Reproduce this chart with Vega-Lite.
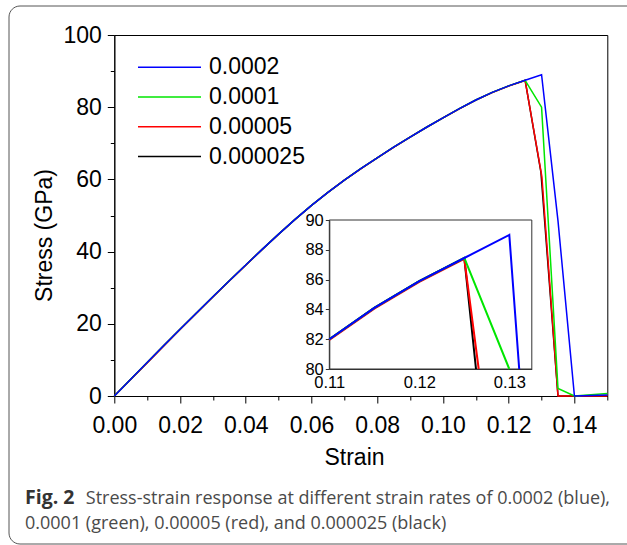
{
  "$schema": "https://vega.github.io/schema/vega-lite/v6.json",
  "width": 493,
  "height": 361,
  "autosize": {"type": "none"},
  "padding": {"left": 114.3, "top": 35, "right": 19.7, "bottom": 149},
  "background": "white",
  "title": {
    "text": "Fig. 2",
    "subtitle": ["\u200b\u00a0\u00a0\u00a0\u00a0\u00a0\u00a0\u00a0\u00a0\u00a0\u00a0\u00a0\u00a0\u00a0Stress-strain response at different strain rates of 0.0002 (blue),", "0.0001 (green), 0.00005 (red), and 0.000025 (black)"],
    "orient": "bottom",
    "anchor": "start",
    "frame": "group",
    "baseline": "alphabetic",
    "dx": -89.3,
    "offset": -41,
    "font": "Open Sans",
    "fontSize": 19.5,
    "fontWeight": "bold",
    "color": "#333333",
    "subtitleFont": "Open Sans",
    "subtitleFontSize": 18,
    "subtitleColor": "#4a4a4a",
    "subtitleLineHeight": 25,
    "subtitlePadding": -19.5
  },
  "datasets": {
    "main": [
      {"rate": "0.000025", "strain": 0, "stress": 0},
      {"rate": "0.000025", "strain": 0.005, "stress": 4.63},
      {"rate": "0.000025", "strain": 0.01, "stress": 9.26},
      {"rate": "0.000025", "strain": 0.015, "stress": 13.9},
      {"rate": "0.000025", "strain": 0.02, "stress": 18.47},
      {"rate": "0.000025", "strain": 0.025, "stress": 23.0},
      {"rate": "0.000025", "strain": 0.03, "stress": 27.49},
      {"rate": "0.000025", "strain": 0.035, "stress": 31.92},
      {"rate": "0.000025", "strain": 0.04, "stress": 36.3},
      {"rate": "0.000025", "strain": 0.045, "stress": 40.62},
      {"rate": "0.000025", "strain": 0.05, "stress": 44.85},
      {"rate": "0.000025", "strain": 0.055, "stress": 48.93},
      {"rate": "0.000025", "strain": 0.06, "stress": 52.81},
      {"rate": "0.000025", "strain": 0.065, "stress": 56.43},
      {"rate": "0.000025", "strain": 0.07, "stress": 59.8},
      {"rate": "0.000025", "strain": 0.075, "stress": 62.97},
      {"rate": "0.000025", "strain": 0.08, "stress": 65.99},
      {"rate": "0.000025", "strain": 0.085, "stress": 68.91},
      {"rate": "0.000025", "strain": 0.09, "stress": 71.73},
      {"rate": "0.000025", "strain": 0.095, "stress": 74.45},
      {"rate": "0.000025", "strain": 0.1, "stress": 77.07},
      {"rate": "0.000025", "strain": 0.105, "stress": 79.59},
      {"rate": "0.000025", "strain": 0.11, "stress": 82.0},
      {"rate": "0.000025", "strain": 0.115, "stress": 84.1},
      {"rate": "0.000025", "strain": 0.12, "stress": 85.9},
      {"rate": "0.000025", "strain": 0.125, "stress": 87.45},
      {"rate": "0.000025", "strain": 0.1298, "stress": 62.0},
      {"rate": "0.000025", "strain": 0.135, "stress": 0},
      {"rate": "0.000025", "strain": 0.14, "stress": 0},
      {"rate": "0.000025", "strain": 0.15, "stress": 0},
      {"rate": "0.00005", "strain": 0, "stress": 0},
      {"rate": "0.00005", "strain": 0.005, "stress": 4.55},
      {"rate": "0.00005", "strain": 0.01, "stress": 9.18},
      {"rate": "0.00005", "strain": 0.015, "stress": 13.82},
      {"rate": "0.00005", "strain": 0.02, "stress": 18.4},
      {"rate": "0.00005", "strain": 0.025, "stress": 22.93},
      {"rate": "0.00005", "strain": 0.03, "stress": 27.43},
      {"rate": "0.00005", "strain": 0.035, "stress": 31.87},
      {"rate": "0.00005", "strain": 0.04, "stress": 36.25},
      {"rate": "0.00005", "strain": 0.045, "stress": 40.58},
      {"rate": "0.00005", "strain": 0.05, "stress": 44.81},
      {"rate": "0.00005", "strain": 0.055, "stress": 48.9},
      {"rate": "0.00005", "strain": 0.06, "stress": 52.78},
      {"rate": "0.00005", "strain": 0.065, "stress": 56.4},
      {"rate": "0.00005", "strain": 0.07, "stress": 59.77},
      {"rate": "0.00005", "strain": 0.075, "stress": 62.94},
      {"rate": "0.00005", "strain": 0.08, "stress": 65.96},
      {"rate": "0.00005", "strain": 0.085, "stress": 68.88},
      {"rate": "0.00005", "strain": 0.09, "stress": 71.7},
      {"rate": "0.00005", "strain": 0.095, "stress": 74.42},
      {"rate": "0.00005", "strain": 0.1, "stress": 77.04},
      {"rate": "0.00005", "strain": 0.105, "stress": 79.56},
      {"rate": "0.00005", "strain": 0.11, "stress": 81.95},
      {"rate": "0.00005", "strain": 0.115, "stress": 84.05},
      {"rate": "0.00005", "strain": 0.12, "stress": 85.85},
      {"rate": "0.00005", "strain": 0.125, "stress": 87.4},
      {"rate": "0.00005", "strain": 0.1301, "stress": 60.8},
      {"rate": "0.00005", "strain": 0.135, "stress": 0},
      {"rate": "0.00005", "strain": 0.14, "stress": 0},
      {"rate": "0.00005", "strain": 0.15, "stress": 0},
      {"rate": "0.0001", "strain": 0, "stress": 0},
      {"rate": "0.0001", "strain": 0.005, "stress": 4.63},
      {"rate": "0.0001", "strain": 0.01, "stress": 9.26},
      {"rate": "0.0001", "strain": 0.015, "stress": 13.9},
      {"rate": "0.0001", "strain": 0.02, "stress": 18.47},
      {"rate": "0.0001", "strain": 0.025, "stress": 23.0},
      {"rate": "0.0001", "strain": 0.03, "stress": 27.49},
      {"rate": "0.0001", "strain": 0.035, "stress": 31.92},
      {"rate": "0.0001", "strain": 0.04, "stress": 36.3},
      {"rate": "0.0001", "strain": 0.045, "stress": 40.62},
      {"rate": "0.0001", "strain": 0.05, "stress": 44.85},
      {"rate": "0.0001", "strain": 0.055, "stress": 48.93},
      {"rate": "0.0001", "strain": 0.06, "stress": 52.81},
      {"rate": "0.0001", "strain": 0.065, "stress": 56.43},
      {"rate": "0.0001", "strain": 0.07, "stress": 59.8},
      {"rate": "0.0001", "strain": 0.075, "stress": 62.97},
      {"rate": "0.0001", "strain": 0.08, "stress": 65.99},
      {"rate": "0.0001", "strain": 0.085, "stress": 68.91},
      {"rate": "0.0001", "strain": 0.09, "stress": 71.73},
      {"rate": "0.0001", "strain": 0.095, "stress": 74.45},
      {"rate": "0.0001", "strain": 0.1, "stress": 77.07},
      {"rate": "0.0001", "strain": 0.105, "stress": 79.59},
      {"rate": "0.0001", "strain": 0.11, "stress": 82.0},
      {"rate": "0.0001", "strain": 0.115, "stress": 84.1},
      {"rate": "0.0001", "strain": 0.12, "stress": 85.9},
      {"rate": "0.0001", "strain": 0.125, "stress": 87.45},
      {"rate": "0.0001", "strain": 0.13, "stress": 80.0},
      {"rate": "0.0001", "strain": 0.135, "stress": 2.1},
      {"rate": "0.0001", "strain": 0.14, "stress": 0},
      {"rate": "0.0001", "strain": 0.15, "stress": 0.7},
      {"rate": "0.0002", "strain": 0, "stress": 0},
      {"rate": "0.0002", "strain": 0.005, "stress": 4.63},
      {"rate": "0.0002", "strain": 0.01, "stress": 9.26},
      {"rate": "0.0002", "strain": 0.015, "stress": 13.9},
      {"rate": "0.0002", "strain": 0.02, "stress": 18.47},
      {"rate": "0.0002", "strain": 0.025, "stress": 23.0},
      {"rate": "0.0002", "strain": 0.03, "stress": 27.49},
      {"rate": "0.0002", "strain": 0.035, "stress": 31.92},
      {"rate": "0.0002", "strain": 0.04, "stress": 36.3},
      {"rate": "0.0002", "strain": 0.045, "stress": 40.62},
      {"rate": "0.0002", "strain": 0.05, "stress": 44.85},
      {"rate": "0.0002", "strain": 0.055, "stress": 48.93},
      {"rate": "0.0002", "strain": 0.06, "stress": 52.81},
      {"rate": "0.0002", "strain": 0.065, "stress": 56.43},
      {"rate": "0.0002", "strain": 0.07, "stress": 59.8},
      {"rate": "0.0002", "strain": 0.075, "stress": 62.97},
      {"rate": "0.0002", "strain": 0.08, "stress": 65.99},
      {"rate": "0.0002", "strain": 0.085, "stress": 68.91},
      {"rate": "0.0002", "strain": 0.09, "stress": 71.73},
      {"rate": "0.0002", "strain": 0.095, "stress": 74.45},
      {"rate": "0.0002", "strain": 0.1, "stress": 77.07},
      {"rate": "0.0002", "strain": 0.105, "stress": 79.59},
      {"rate": "0.0002", "strain": 0.11, "stress": 82.0},
      {"rate": "0.0002", "strain": 0.115, "stress": 84.1},
      {"rate": "0.0002", "strain": 0.12, "stress": 85.9},
      {"rate": "0.0002", "strain": 0.125, "stress": 87.45},
      {"rate": "0.0002", "strain": 0.13, "stress": 89.0},
      {"rate": "0.0002", "strain": 0.135, "stress": 48.5},
      {"rate": "0.0002", "strain": 0.14, "stress": 0},
      {"rate": "0.0002", "strain": 0.15, "stress": 0.3}
    ],
    "inset": [
      {"rate": "0.000025", "strain": 0.11, "stress": 82.0},
      {"rate": "0.000025", "strain": 0.115, "stress": 84.1},
      {"rate": "0.000025", "strain": 0.12, "stress": 85.9},
      {"rate": "0.000025", "strain": 0.125, "stress": 87.45},
      {"rate": "0.000025", "strain": 0.1263, "stress": 80},
      {"rate": "0.00005", "strain": 0.11, "stress": 81.95},
      {"rate": "0.00005", "strain": 0.115, "stress": 84.05},
      {"rate": "0.00005", "strain": 0.12, "stress": 85.85},
      {"rate": "0.00005", "strain": 0.125, "stress": 87.4},
      {"rate": "0.00005", "strain": 0.1266, "stress": 80},
      {"rate": "0.0001", "strain": 0.11, "stress": 82.0},
      {"rate": "0.0001", "strain": 0.115, "stress": 84.1},
      {"rate": "0.0001", "strain": 0.12, "stress": 85.9},
      {"rate": "0.0001", "strain": 0.125, "stress": 87.45},
      {"rate": "0.0001", "strain": 0.13, "stress": 80},
      {"rate": "0.0002", "strain": 0.11, "stress": 82.0},
      {"rate": "0.0002", "strain": 0.115, "stress": 84.1},
      {"rate": "0.0002", "strain": 0.12, "stress": 85.9},
      {"rate": "0.0002", "strain": 0.125, "stress": 87.45},
      {"rate": "0.0002", "strain": 0.13, "stress": 89.0},
      {"rate": "0.0002", "strain": 0.1311, "stress": 80}
    ]
  },
  "layer": [
    {
      "data": {"values": [{}]},
      "mark": {"type": "rect", "fill": null, "stroke": "#555555", "strokeWidth": 1, "cornerRadius": 11, "clip": false},
      "encoding": {
        "x": {"datum": 0, "type": "quantitative", "scale": {"domain": [0, 1], "range": [-105.3, 530]}, "axis": null},
        "x2": {"datum": 1},
        "y": {"datum": 0, "type": "quantitative", "scale": {"domain": [0, 1], "range": [509, -29]}, "axis": null},
        "y2": {"datum": 1}
      }
    },
    {
      "data": {"name": "main"},
      "mark": {"type": "line", "strokeWidth": 1.5},
      "encoding": {
        "x": {
          "field": "strain", "type": "quantitative",
          "scale": {"domain": [0, 0.15], "nice": false, "zero": false},
          "axis": {
            "orient": "bottom",
            "values": [0, 0.01, 0.02, 0.03, 0.04, 0.05, 0.06, 0.07, 0.08, 0.09, 0.1, 0.11, 0.12, 0.13, 0.14, 0.15],
            "format": ".2f",
            "labelExpr": "round(datum.value*100) % 2 == 0 && datum.value < 0.145 ? datum.label : ''",
            "tickSize": {"condition": {"test": "round(datum.value*100) % 2 == 1", "value": 4}, "value": 7},
            "tickColor": "black", "tickWidth": 1, "domainColor": "black", "domainWidth": 1,
            "labelFont": "Liberation Sans", "labelFontSize": 23, "labelColor": "black", "labelPadding": 11,
            "labelFlush": false, "labelOverlap": false, "grid": false,
            "title": "Strain", "titleFont": "Liberation Sans", "titleFontSize": 23, "titleFontWeight": "normal", "titleColor": "black",
            "titleX": 239.7, "titleY": 68, "titleAlign": "center", "titleBaseline": "alphabetic"
          }
        },
        "y": {
          "field": "stress", "type": "quantitative",
          "scale": {"domain": [0, 100], "nice": false},
          "axis": {
            "orient": "left",
            "values": [0, 10, 20, 30, 40, 50, 60, 70, 80, 90, 100],
            "labelExpr": "datum.value % 20 == 0 ? datum.label : ''",
            "tickSize": {"condition": {"test": "datum.value % 20 != 0", "value": 4}, "value": 7},
            "tickColor": "black", "tickWidth": 1, "domainColor": "black", "domainWidth": 1,
            "labelFont": "Liberation Sans", "labelFontSize": 23, "labelColor": "black", "labelPadding": 6,
            "labelFlush": false, "labelOverlap": false, "grid": false,
            "title": "Stress (GPa)", "titleFont": "Liberation Sans", "titleFontSize": 23, "titleFontWeight": "normal", "titleColor": "black",
            "titleX": -63, "titleY": 200, "titleAngle": -90, "titleAlign": "center", "titleBaseline": "alphabetic"
          }
        },
        "color": {
          "field": "rate", "type": "nominal",
          "scale": {"domain": ["0.0002", "0.0001", "0.00005", "0.000025"], "range": ["#0000ff", "#00e600", "#ff0000", "#000000"]},
          "legend": {
            "orient": "none", "legendX": 22.7, "legendY": 20.7, "title": null,
            "symbolType": "M-1,0H5", "symbolSize": 441, "symbolStrokeWidth": 1.5,
            "labelFont": "Liberation Sans", "labelFontSize": 23, "labelColor": "black", "labelOffset": 49,
            "rowPadding": 5.8, "padding": 0, "labelLimit": 0
          }
        }
      }
    },
    {
      "data": {"name": "inset"},
      "layer": [
        {
          "data": {"values": [{}]},
          "mark": {"type": "rect", "fill": null, "stroke": "#333333", "strokeWidth": 1},
          "encoding": {
            "x": {"datum": 0.11, "type": "quantitative"},
            "x2": {"datum": 0.1325},
            "y": {"datum": 80, "type": "quantitative"},
            "y2": {"datum": 90}
          }
        },
        {
          "mark": {"type": "line", "strokeWidth": 2},
          "encoding": {
            "x": {
              "field": "strain", "type": "quantitative",
              "scale": {"domain": [0.11, 0.1325], "range": [215, 417.5], "nice": false, "zero": false},
              "axis": {
                "orient": "bottom", "offset": -27,
                "values": [0.11, 0.12, 0.13], "format": ".2f",
                "ticks": false, "domainColor": "#333333",
                "labelFont": "Liberation Sans", "labelFontSize": 16.5, "labelColor": "black", "labelPadding": 5,
                "labelFlush": false, "labelOverlap": false, "grid": false, "title": null
              }
            },
            "y": {
              "field": "stress", "type": "quantitative",
              "scale": {"domain": [80, 90], "range": [334, 185], "nice": false, "zero": false},
              "axis": {
                "orient": "left", "offset": -215,
                "values": [80, 81, 82, 83, 84, 85, 86, 87, 88, 89, 90],
                "labelExpr": "datum.value % 2 == 0 ? datum.label : ''",
                "tickSize": {"condition": {"test": "datum.value % 2 == 1", "value": 2.5}, "value": 4},
                "tickColor": "#333333", "domainColor": "#333333",
                "labelFont": "Liberation Sans", "labelFontSize": 16.5, "labelColor": "black", "labelPadding": 2,
                "labelFlush": false, "labelOverlap": false, "grid": false, "title": null
              }
            },
            "color": {"field": "rate", "type": "nominal", "legend": null}
          }
        }
      ]
    }
  ],
  "resolve": {"scale": {"x": "independent", "y": "independent"}},
  "config": {
    "view": {"stroke": "black", "strokeWidth": 1},
    "axis": {"grid": false}
  }
}
